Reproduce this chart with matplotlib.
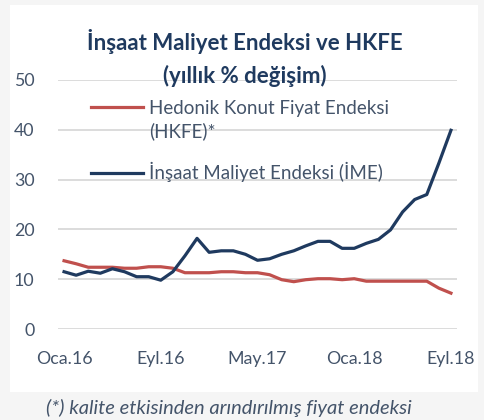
import matplotlib
matplotlib.use("Agg")
import matplotlib.pyplot as plt
from matplotlib.patches import Rectangle

# ---- data ----
months = list(range(33))  # Oca.16 .. Eyl.18 (monthly)
tick_positions = [0, 8, 16, 24, 32]
tick_labels = ["Oca.16", "Eyl.16", "May.17", "Oca.18", "Eyl.18"]

hkfe = [13.7, 13.1, 12.4, 12.4, 12.4, 12.2, 12.2, 12.5, 12.5, 12.2,
        11.3, 11.3, 11.3, 11.5, 11.5, 11.3, 11.3, 10.9, 9.9, 9.5,
        9.9, 10.1, 10.1, 9.9, 10.1, 9.6, 9.6, 9.6, 9.6, 9.6,
        9.6, 8.2, 7.2]
ime = [11.5, 10.8, 11.6, 11.2, 12.1, 11.5, 10.5, 10.5, 9.8, 11.5,
       14.7, 18.2, 15.4, 15.7, 15.7, 15.0, 13.8, 14.1, 15.0, 15.7,
       16.7, 17.6, 17.6, 16.2, 16.2, 17.2, 18.0, 19.9, 23.5, 26.0,
       27.0, 33.3, 39.9]

label_hkfe = "Hedonik Konut Fiyat Endeksi"
label_hkfe2 = "(HKFE)*"
label_ime = "İnşaat Maliyet Endeksi (İME)"
title1 = "İnşaat Maliyet Endeksi ve HKFE"
title2 = "(yıllık % değişim)"
footnote = "(*) kalite etkisinden arındırılmış fiyat endeksi"

# ---- style ----
RED = "#c0504d"
BLUE = "#1f3a5f"
TXT = "#44546a"
TITLE = "#1f3a5f"
FONT = ["Lato", "DejaVu Sans"]
plt.rcParams["font.family"] = FONT

W, H = 485, 420
fig = plt.figure(figsize=(W / 100, H / 100), dpi=100)
fig.patch.set_facecolor("#f5f5f5")
fig.patches.append(Rectangle((10 / W, 1 - 392 / H), (478 - 10) / W, (392 - 5) / H,
                             transform=fig.transFigure, facecolor="white",
                             edgecolor="none", zorder=-5))

AXW, AXH = 457 - 58, 329 - 80
ax = fig.add_axes([58 / W, 1 - 329 / H, AXW / W, AXH / H])
ax.set_zorder(2)
ax.set_facecolor("none")
ax.set_xlim(-0.5, 32.5)
ax.set_ylim(0, 50)
ax.set_yticks([0, 10, 20, 30, 40, 50])
ax.yaxis.grid(True, color="#d9d9d9", linewidth=1.3)
ax.set_axisbelow(True)
for s in ax.spines.values():
    s.set_visible(False)
ax.set_xticks(tick_positions)
ax.set_xticklabels(tick_labels)
ax.tick_params(axis="both", length=0, colors=TXT, labelsize=12.8)
ax.tick_params(axis="y", pad=17)
ax.tick_params(axis="x", pad=16)

l1, = ax.plot(months, hkfe, color=RED, linewidth=2.3, solid_joinstyle="round")
l2, = ax.plot(months, ime, color=BLUE, linewidth=2.3, solid_joinstyle="round")

LFS = 13.5
blank, = ax.plot([], [], color="none")
leg1 = ax.legend([l1, blank], [label_hkfe, label_hkfe2], loc="upper left",
                 bbox_to_anchor=(33 / AXW, 1 - 20 / AXH), frameon=False,
                 fontsize=LFS, labelcolor=TXT, handlelength=2.8,
                 handletextpad=0.32, labelspacing=0.3, borderpad=0, borderaxespad=0)
ax.add_artist(leg1)
ax.legend([l2], [label_ime], loc="upper left",
          bbox_to_anchor=(33 / AXW, 1 - 82 / AXH), frameon=False,
          fontsize=LFS, labelcolor=TXT, handlelength=2.8,
          handletextpad=0.32, borderpad=0, borderaxespad=0)

fig.text(245 / W, 1 - 42 / H, title1, ha="center", va="center",
         fontsize=16, fontweight="bold", color=TITLE)
fig.text(245 / W, 1 - 76 / H, title2, ha="center", va="center",
         fontsize=16, fontweight="bold", color=TITLE)
fig.text(229 / W, 1 - 408 / H, footnote, ha="center", va="center",
         fontsize=14.5, style="italic", color=TXT)

fig.savefig("out.png", dpi=100, facecolor=fig.get_facecolor())
